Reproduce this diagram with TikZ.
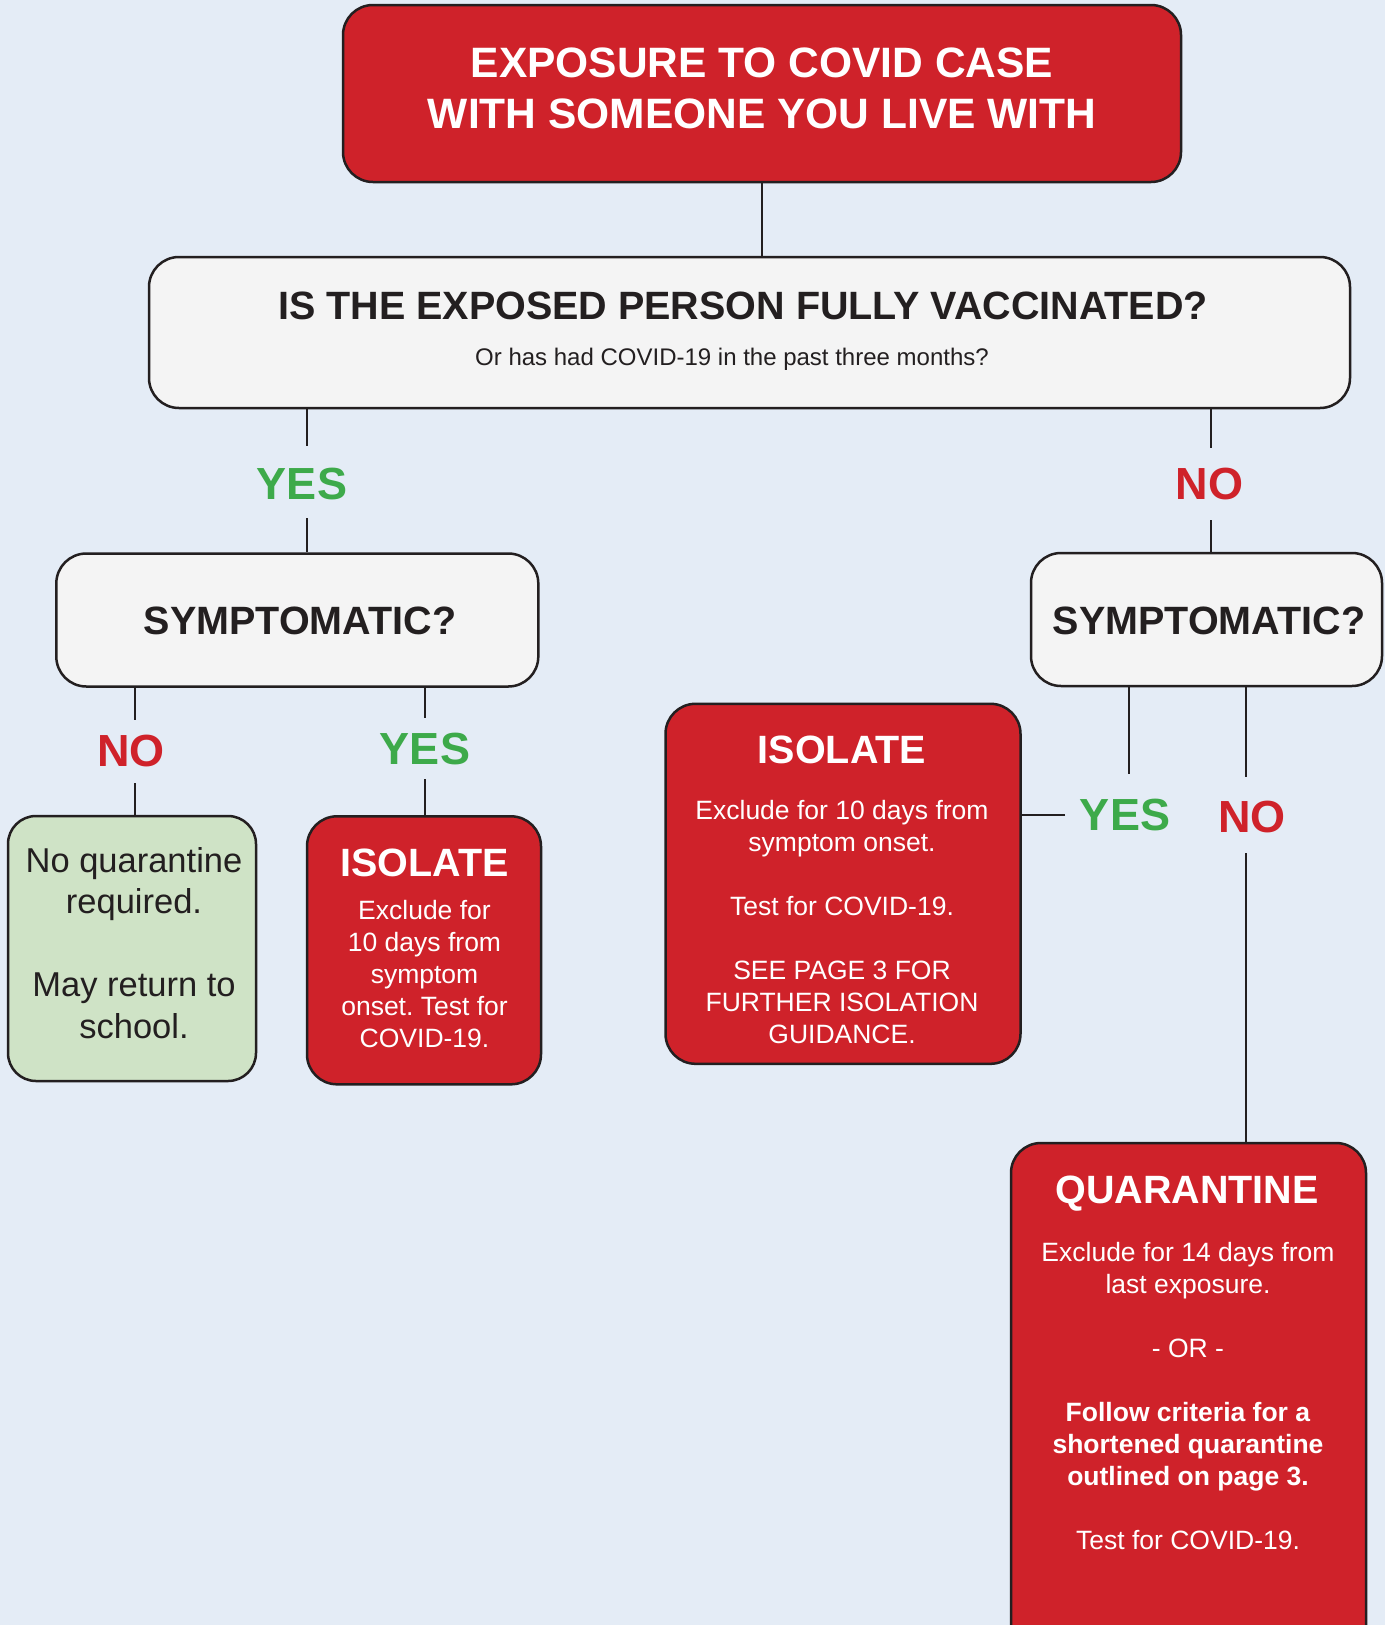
\documentclass[tikz,border=0pt]{standalone}
\usepackage{fontspec}
\setmainfont{Liberation Sans}
\definecolor{bg}{HTML}{E4ECF6}
\definecolor{covred}{HTML}{CF222A}
\definecolor{ink}{HTML}{231F20}
\definecolor{boxgray}{HTML}{F4F4F4}
\definecolor{boxgreen}{HTML}{CFE3C6}
\definecolor{yesgreen}{HTML}{3DAA4A}
\newcommand\firststrut[1]{\rule{0pt}{#1}}
\frenchspacing
\begin{document}
\begin{tikzpicture}[x=1pt,y=-1pt,
 box/.style={draw=ink, line width=2.5pt, rounded corners=30pt, inner sep=0pt, anchor=center},
 redbox/.style={box, fill=covred},
 graybox/.style={box, fill=boxgray},
 greenbox/.style={box, fill=boxgreen},
 conn/.style={draw=ink, line width=2.5pt},
 head/.style={anchor=base, inner sep=0pt, font=\fontsize{39.5}{46}\selectfont\bfseries},
 body/.style={anchor=north, inner sep=0pt, align=center, text=white, font=\fontsize{26.5}{32}\selectfont},
 yeslbl/.style={anchor=base, inner sep=0pt, text=yesgreen, font=\fontsize{45}{50}\selectfont\bfseries},
 nolbl/.style={yeslbl, text=covred},
]
\useasboundingbox (0,0) rectangle (1385,1625);
\clip (0,0) rectangle (1385,1625);
\fill[bg] (0,0) rectangle (1385,1625);

% boxes
\node[redbox, minimum width=838pt, minimum height=177pt] (top) at (762,93.5) {};
\node[graybox, minimum width=1201pt, minimum height=151pt] (q) at (749.5,332.5) {};
\node[graybox, minimum width=482pt, minimum height=133pt] (symL) at (297.3,620) {};
\node[graybox, minimum width=351pt, minimum height=133pt] (symR) at (1206.5,619.5) {};
\node[greenbox, minimum width=248pt, minimum height=265pt, rounded corners=28pt] (green) at (132,948.5) {};
\node[redbox, minimum width=234pt, minimum height=268pt] (isoL) at (424,950.3) {};
\node[redbox, minimum width=355pt, minimum height=360pt] (isoM) at (843,883.8) {};
\node[redbox, minimum width=355pt, minimum height=517pt] (quar) at (1188.5,1401.5) {};

% texts
\node[anchor=north, inner sep=0pt, align=center, text=white, font=\fontsize{42.5}{51}\selectfont\bfseries] (topT) at (762,42)
 {\firststrut{35pt}EXPOSURE TO COVID CASE\\WITH SOMEONE YOU LIVE WITH};
\node[head, text=ink] (qT) at (743,319) {IS THE EXPOSED PERSON FULLY VACCINATED?};
\node[anchor=base, inner sep=0pt, text=ink, font=\fontsize{24}{28}\selectfont] (qS) at (732,365) {Or has had COVID-19 in the past three months?};
\node[head, text=ink] (symLT) at (300,634) {SYMPTOMATIC?};
\node[head, text=ink] (symRT) at (1209,634) {SYMPTOMATIC?};

\node[anchor=north, inner sep=0pt, align=center, text=ink, font=\fontsize{34.5}{41.5}\selectfont] (greenT) at (134,834)
 {\firststrut{38pt}No quarantine\\required.\\[41.5pt]May return to\\school.};

\node[head, text=white] (isoLH) at (424.5,876) {ISOLATE};
\node[body] (isoLT) at (424.5,889)
 {\firststrut{30pt}Exclude for\\10 days from\\symptom\\onset. Test for\\COVID-19.};

\node[head, text=white] (isoMH) at (842,763) {ISOLATE};
\node[body] (isoMT) at (842,789)
 {\firststrut{30pt}Exclude for 10 days from\\symptom onset.\\[32pt]Test for COVID-19.\\[32pt]SEE PAGE 3 FOR\\FURTHER ISOLATION\\GUIDANCE.};

\node[head, text=white] (quarH) at (1187,1203) {QUARANTINE};
\node[body] (quarT) at (1188,1231)
 {\firststrut{30pt}Exclude for 14 days from\\last exposure.\\[32pt]- OR -\\[32pt]\textbf{Follow criteria for a}\\\textbf{shortened quarantine}\\\textbf{outlined on page 3.}\\[32pt]Test for COVID-19.};

% labels
\node[yeslbl] (yesA) at (302,499) {YES};
\node[nolbl] (noA) at (1209.5,499) {NO};
\node[nolbl] (noB) at (131,766) {NO};
\node[yeslbl] (yesB) at (425,764) {YES};
\node[yeslbl] (yesR) at (1125,830) {YES};
\node[nolbl] (noR) at (1252,832) {NO};

% connector ends
\coordinate (aTop) at (307,446);
\coordinate (aBot) at (307,518);
\coordinate (bTop) at (1211,448);
\coordinate (bBot) at (1211,520);
\coordinate (cTop) at (135,720);
\coordinate (cBot) at (135,783);
\coordinate (dTop) at (425,717.5);
\coordinate (dBot) at (425,779);
\coordinate (eTop) at (1129,774);
\coordinate (eEnd) at (1065,815);
\coordinate (fTop) at (1246,777);
\coordinate (fBot) at (1246,853);

% connectors
\draw[conn] (top.south) -- (top.south |- q.north);
\draw[conn] (q.south -| aTop) -- (aTop);
\draw[conn] (aBot) -- (aBot |- symL.north);
\draw[conn] (q.south -| bTop) -- (bTop);
\draw[conn] (bBot) -- (bBot |- symR.north);
\draw[conn] (symL.south -| cTop) -- (cTop);
\draw[conn] (cBot) -- (cBot |- green.north);
\draw[conn] (symL.south -| dTop) -- (dTop);
\draw[conn] (dBot) -- (dBot |- isoL.north);
\draw[conn] (symR.south -| eTop) -- (eTop);
\draw[conn] (eEnd) -- (eEnd -| isoM.east);
\draw[conn] (symR.south -| fTop) -- (fTop);
\draw[conn] (fBot) -- (fBot |- quar.north);
\end{tikzpicture}
\end{document}
